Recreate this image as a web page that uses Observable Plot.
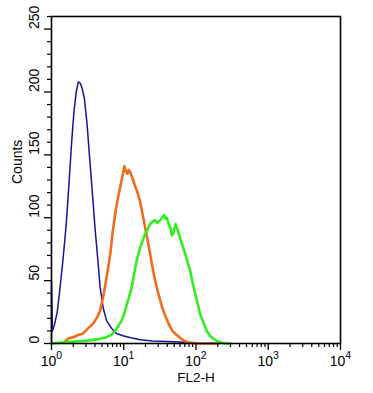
<!DOCTYPE html>
<html><head><meta charset="utf-8">
<script src="https://cdn.jsdelivr.net/npm/d3@7"></script>
<script src="https://cdn.jsdelivr.net/npm/@observablehq/plot@0.6"></script>
<style>html,body{margin:0;padding:0;background:#fff} svg{display:block}</style>
</head><body><div id="chart"></div>
<script>
// FL2-H values and counts
const blueFL2 = [1, 1, 1.03, 1.1, 1.2, 1.3, 1.45, 1.6, 1.75, 1.9, 2.05, 2.2, 2.35, 2.5, 2.65, 2.85, 3.1, 3.4, 3.7, 4.0, 4.4, 4.7, 5.2, 5.8, 6.8, 7.9, 10, 12.6, 17, 25, 40, 70, 120];
const blueCounts = [0, 50, 10, 15, 25, 42, 68, 95, 128, 160, 185, 200, 208, 207, 203, 195, 175, 145, 118, 92, 65, 45, 28, 18, 12, 8, 6, 4.5, 3, 2, 1.5, 1, 0];

const orangeFL2 = [1.5, 1.7, 2.0, 2.4, 2.75, 3.2, 3.8, 4.3, 4.7, 5.1, 5.5, 6.0, 6.5, 7.0, 7.6, 8.2, 8.9, 9.6, 10.2, 10.6, 11.2, 11.7, 12.3, 12.9, 13.5, 14.4, 15.5, 16.8, 18.2, 19.8, 21.4, 23.2, 25.1, 27.2, 30, 33.9, 37.5, 41.7, 47, 54.5, 63, 75, 90, 110, 200];
const orangeCounts = [1, 4, 5, 7, 8, 12, 16, 21, 26, 35, 45, 58, 71, 88, 103, 114, 124, 133, 141, 138, 135, 138, 136, 133, 130, 125, 120, 113, 103, 92, 82, 71, 60, 50, 40, 29, 22, 16, 10, 6.5, 3.5, 1, 0.5, 0, 0];

const greenFL2 = [1, 1.5, 2.0, 2.7, 3.4, 4.5, 5.8, 6.8, 7.6, 8.4, 9.3, 10.2, 11.0, 12.0, 12.9, 14.0, 15.1, 16.8, 18.3, 19.8, 21.5, 23.2, 25.2, 27.2, 29, 31, 33, 34.5, 36.3, 38, 39.5, 41.7, 44, 46.5, 49, 52, 56, 60, 65, 71, 77, 83, 90, 98, 106, 115, 128, 141, 157, 174, 195, 214, 260, 300];
const greenCounts = [0, 1, 1.5, 2, 2.5, 3.5, 5, 7, 10, 14, 18, 24, 31, 38, 45, 56, 66, 76, 82, 87, 91, 95, 97, 98, 96, 97, 99, 101, 102, 99, 100, 95, 92, 86, 88, 95, 90, 84, 78, 71, 64, 58, 48, 39, 31, 23, 16, 10, 6, 4, 2, 1, 0, 0];

const xMajor = [1, 10, 100, 1000, 10000];
const xMinor = [2,3,4,5,6,7,8,9,20,30,40,50,60,70,80,90,200,300,400,500,600,700,800,900,2000,3000,4000,5000,6000,7000,8000,9000];
const yMajor = [0, 50, 100, 150, 200, 250];
const yMinor = [10,20,30,40,60,70,80,90,110,120,130,140,160,170,180,190,210,220,230,240,260];

const toRows = (xs, ys) => xs.map((x, i) => ({x, y: ys[i]}));
const blue = toRows(blueFL2, blueCounts);
const orange = toRows(orangeFL2, orangeCounts);
const green = toRows(greenFL2, greenCounts);

const font = "'Liberation Sans', Arial, Helvetica, sans-serif";
const plot = Plot.plot({
  width: 373, height: 393,
  marginLeft: 51, marginRight: 33, marginTop: 16, marginBottom: 50,
  x: {type: "log", domain: [1, 10000]},
  y: {domain: [0, 260], axis: null},
  style: {fontFamily: font, background: "white", color: "black"},
  marks: [
    Plot.line(blue, {x: "x", y: "y", stroke: "#14149a", strokeWidth: 1.5}),
    Plot.line(orange, {x: "x", y: "y", stroke: "#f26b1d", strokeWidth: 2.6}),
    Plot.line(green, {x: "x", y: "y", stroke: "#33ee1e", strokeWidth: 2.6}),
    Plot.frame({stroke: "black", strokeWidth: 1.6}),
    Plot.axisX(xMajor, {tickSize: 7, tickPadding: 6, tickFormat: d => "10" + Math.round(Math.log10(d)), fontSize: 14, label: null, strokeWidth: 1.3, fill: "black"}),
    Plot.tickX(xMinor, {x: d => d, insetTop: 327, insetBottom: -4, stroke: "black", strokeWidth: 1.2}),
    Plot.tickY(yMajor, {y: d => d, insetLeft: -7, insetRight: 289, stroke: "black", strokeWidth: 1.3}),
    Plot.tickY(yMinor, {y: d => d, insetLeft: -4, insetRight: 289, stroke: "black", strokeWidth: 1.2}),
    Plot.text(yMajor, {y: d => d, text: d => String(d), frameAnchor: "left", dx: -17, rotate: -90, fontSize: 14, fill: "black"}),
    Plot.text(["Counts"], {text: d => d, frameAnchor: "left", dx: -34, dy: 4, rotate: -90, fontSize: 14, fill: "black"}),
    Plot.text(["FL2-H"], {text: d => d, frameAnchor: "bottom", dy: 38, fontSize: 13.5, fill: "black"})
  ]
});

d3.select(plot).selectAll('g[aria-label="x-axis tick label"] text').each(function() {
  const t = this.textContent;
  const sel = d3.select(this);
  sel.text("10");
  sel.append("tspan").attr("dy", "-7").attr("font-size", "10.5px").text(t.slice(2));
});

document.getElementById("chart").appendChild(plot);
</script>
</body></html>
